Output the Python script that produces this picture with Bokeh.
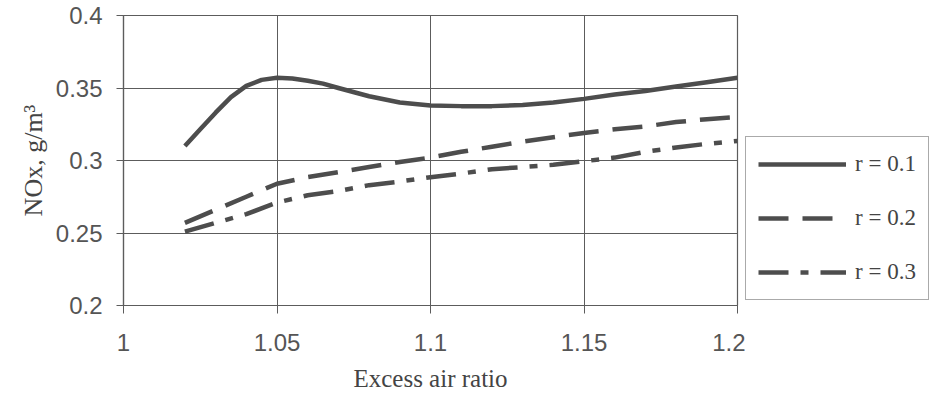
from bokeh.plotting import figure
from bokeh.layouts import row
from bokeh.models import Range1d, FixedTicker, Legend, LegendItem
from bokeh.embed import file_html
from bokeh.resources import INLINE

# ---- data ----
excess_air_r01 = [1.020, 1.025, 1.030, 1.035, 1.040, 1.045, 1.050, 1.055, 1.060, 1.065,
                  1.070, 1.080, 1.090, 1.100, 1.110, 1.120, 1.130, 1.140, 1.150, 1.160,
                  1.170, 1.180, 1.190, 1.200]
nox_r01 = [0.310, 0.3215, 0.333, 0.3437, 0.3515, 0.3556, 0.357, 0.3566, 0.355, 0.353,
           0.350, 0.3443, 0.340, 0.338, 0.3375, 0.3375, 0.3383, 0.340, 0.3425, 0.3455,
           0.348, 0.351, 0.354, 0.357]

excess_air = [1.02, 1.03, 1.04, 1.05, 1.06, 1.07, 1.08, 1.09, 1.10, 1.11,
              1.12, 1.13, 1.14, 1.15, 1.16, 1.17, 1.18, 1.19, 1.20]
nox_r02 = [0.257, 0.266, 0.275, 0.284, 0.2885, 0.292, 0.2955, 0.299, 0.302, 0.306,
           0.3095, 0.313, 0.316, 0.319, 0.3215, 0.3235, 0.3265, 0.3285, 0.330]
nox_r03 = [0.251, 0.257, 0.263, 0.271, 0.276, 0.279, 0.283, 0.2855, 0.2885, 0.291,
           0.294, 0.2955, 0.297, 0.2995, 0.302, 0.306, 0.309, 0.3115, 0.3135]
series_labels = ["r = 0.1", "r = 0.2", "r = 0.3"]

x_ticks = [1.0, 1.05, 1.1, 1.15, 1.2]
x_tick_labels = ["1", "1.05", "1.1", "1.15", "1.2"]
y_ticks = [0.2, 0.25, 0.3, 0.35, 0.4]
y_tick_labels = ["0.2", "0.25", "0.3", "0.35", "0.4"]

x_title = "Excess air ratio"
y_title = "NOx, g/m\u00b3"

# ---- styling ----
INK = "#4d4d4d"
GRID = "#5c5c5c"
SANS = "Liberation Sans"
SERIF = "Liberation Serif"
DASHES = [None, "30 14", "30 12 8 12"]
NAN = float("nan")

H = 397
MAIN_W, LEG_W = 745, 185
LEFT, RIGHT, TOP, BOTTOM = 123, 8, 15, 92

p = figure(width=MAIN_W, height=H, output_backend="svg", toolbar_location=None,
           x_range=Range1d(1.0, 1.2), y_range=Range1d(0.2, 0.4),
           min_border_left=LEFT, min_border_right=RIGHT,
           min_border_top=TOP, min_border_bottom=BOTTOM,
           background_fill_color="white", border_fill_color="white")

p.outline_line_color = GRID
p.outline_line_width = 1.2

p.xaxis.ticker = FixedTicker(ticks=x_ticks)
p.yaxis.ticker = FixedTicker(ticks=y_ticks)
p.xaxis.major_label_overrides = dict(zip(x_ticks, x_tick_labels))
p.yaxis.major_label_overrides = dict(zip(y_ticks, y_tick_labels))

for ax in (p.xaxis, p.yaxis):
    ax.axis_line_color = GRID
    ax.axis_line_width = 1.2
    ax.major_tick_line_color = GRID
    ax.major_tick_in = 0
    ax.minor_tick_line_color = None
    ax.major_label_text_font = SANS
    ax.major_label_text_font_size = "24px"
    ax.major_label_text_color = "#555555"
    ax.axis_label_text_font = SERIF
    ax.axis_label_text_font_style = "normal"
    ax.axis_label_text_color = "#444444"

p.xaxis.major_tick_out = 8
p.yaxis.major_tick_out = 7
p.xaxis.major_label_standoff = 20
p.yaxis.major_label_standoff = 14

p.yaxis.axis_label = y_title
p.yaxis.axis_label_text_font_size = "26px"
p.yaxis.axis_label_standoff = 5

p.xaxis.axis_label = x_title
p.xaxis.axis_label_text_font_size = "25px"
p.xaxis.axis_label_standoff = 11

p.xgrid.ticker = FixedTicker(ticks=x_ticks)
p.ygrid.ticker = FixedTicker(ticks=y_ticks)
p.grid.grid_line_color = GRID
p.grid.grid_line_width = 1

p.line(excess_air_r01, nox_r01, line_color=INK, line_width=4.5, line_join="round")
p.line(excess_air, nox_r02, line_color=INK, line_width=4.5, line_dash=DASHES[1])
p.line(excess_air, nox_r03, line_color=INK, line_width=4.5, line_dash=DASHES[2])

# ---- legend panel (a separate figure holding only the legend keys) ----
q = figure(width=LEG_W, height=H, output_backend="svg", toolbar_location=None,
           x_axis_type=None, y_axis_type=None, min_border=0,
           x_range=Range1d(0, 1), y_range=Range1d(0, 1),
           background_fill_color="white", border_fill_color="white")
q.outline_line_color = None
q.grid.visible = False

keys = []
for i, lab in enumerate(series_labels):
    kw = dict(line_color=INK, line_width=4.5)
    if DASHES[i]:
        kw["line_dash"] = DASHES[i]
    r = q.line(x=[NAN], y=[NAN], **kw)
    keys.append(LegendItem(label=lab, renderers=[r]))

legend = Legend(items=keys, location=(0, 5), margin=0, padding=12, spacing=24,
                glyph_width=88, glyph_height=30, label_standoff=9,
                label_text_font=SERIF, label_text_font_size="23px",
                label_text_color="#444444",
                border_line_color="#555555", border_line_width=1.5,
                background_fill_color="white", background_fill_alpha=1.0)
q.add_layout(legend)

layout = row(p, q)
open("out.html", "w").write(file_html(layout, INLINE))
